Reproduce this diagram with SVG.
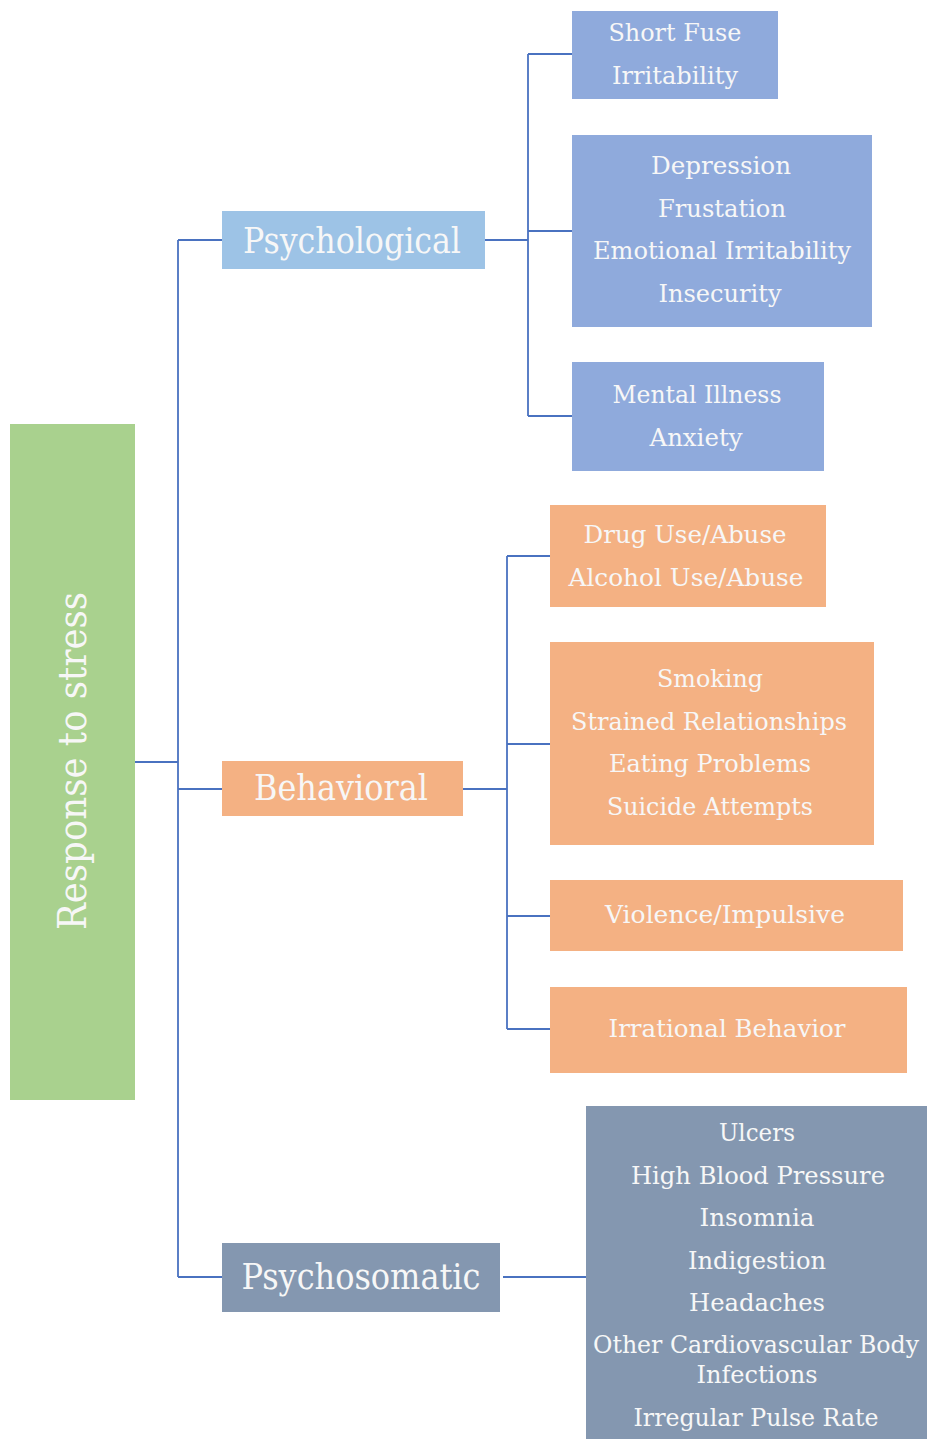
<svg xmlns="http://www.w3.org/2000/svg" width="927" height="1439" viewBox="0 0 927 1439">
<style>
text{font-family:"DejaVu Serif","Liberation Serif",serif;fill:#F7F7F7;text-anchor:middle}
.s{font-size:23.5px}
.t{font-size:25px}
.h{font-size:35px}
.c{stroke:#4A72C0;stroke-width:1.8;fill:none}
.blue{fill:#8FAADC}.org{fill:#F4B183}.slate{fill:#8497B0}
</style>
<rect width="927" height="1439" fill="#FFFFFF"/>
<g id="connectors">
<path class="c" d="M135 762H178M178 240V1277M178 240H222M178 789H222M178 1277H222"/>
<path class="c" d="M485 240H528M528 54V416M528 54H572M528 231H572M528 416H572"/>
<path class="c" d="M463 789H507M507 556V1029M507 556H550M507 744H550M507 916H550M507 1029H550"/>
<path class="c" d="M503 1277H586"/>
</g>
<g id="root">
<rect x="10" y="424" width="125" height="676" fill="#A9D18E"/>
<text transform="translate(86 761) rotate(-90)" font-size="39" textLength="338" lengthAdjust="spacingAndGlyphs">Response to stress</text>
</g>
<g id="psychological">
<rect x="222" y="211" width="263" height="58" fill="#9DC3E6"/>
<text class="h" x="352" y="253" textLength="218" lengthAdjust="spacingAndGlyphs">Psychological</text>
</g>
<g id="behavioral">
<rect x="222" y="761" width="241" height="55" class="org"/>
<text class="h" x="341" y="800" textLength="174" lengthAdjust="spacingAndGlyphs">Behavioral</text>
</g>
<g id="psychosomatic">
<rect x="222" y="1243" width="278" height="69" class="slate"/>
<text class="h" x="361" y="1289" textLength="239" lengthAdjust="spacingAndGlyphs">Psychosomatic</text>
</g>
<g id="psy1">
<rect x="572" y="11" width="206" height="88" class="blue"/>
<text class="s" x="675" y="41" textLength="133" lengthAdjust="spacingAndGlyphs">Short Fuse</text>
<text class="s" x="675" y="84" textLength="126" lengthAdjust="spacingAndGlyphs">Irritability</text>
</g>
<g id="psy2">
<rect x="572" y="135" width="300" height="192" class="blue"/>
<text class="s" x="721" y="174" textLength="140" lengthAdjust="spacingAndGlyphs">Depression</text>
<text class="s" x="722" y="217" textLength="128" lengthAdjust="spacingAndGlyphs">Frustation</text>
<text class="s" x="722" y="259" textLength="258" lengthAdjust="spacingAndGlyphs">Emotional Irritability</text>
<text class="s" x="720" y="302" textLength="123" lengthAdjust="spacingAndGlyphs">Insecurity</text>
</g>
<g id="psy3">
<rect x="572" y="362" width="252" height="109" class="blue"/>
<text class="s" x="697" y="403" textLength="169" lengthAdjust="spacingAndGlyphs">Mental Illness</text>
<text class="s" x="696" y="446" textLength="93" lengthAdjust="spacingAndGlyphs">Anxiety</text>
</g>
<g id="beh1">
<rect x="550" y="505" width="276" height="102" class="org"/>
<text class="s" x="685" y="543" textLength="203" lengthAdjust="spacingAndGlyphs">Drug Use/Abuse</text>
<text class="s" x="686" y="586" textLength="235" lengthAdjust="spacingAndGlyphs">Alcohol Use/Abuse</text>
</g>
<g id="beh2">
<rect x="550" y="642" width="324" height="203" class="org"/>
<text class="s" x="710" y="687" textLength="106" lengthAdjust="spacingAndGlyphs">Smoking</text>
<text class="s" x="709" y="730" textLength="276" lengthAdjust="spacingAndGlyphs">Strained Relationships</text>
<text class="s" x="710" y="772" textLength="202" lengthAdjust="spacingAndGlyphs">Eating Problems</text>
<text class="s" x="710" y="815" textLength="206" lengthAdjust="spacingAndGlyphs">Suicide Attempts</text>
</g>
<g id="beh3">
<rect x="550" y="880" width="353" height="71" class="org"/>
<text class="s" x="725" y="923" textLength="240" lengthAdjust="spacingAndGlyphs">Violence/Impulsive</text>
</g>
<g id="beh4">
<rect x="550" y="987" width="357" height="86" class="org"/>
<text class="s" x="727" y="1037" textLength="237" lengthAdjust="spacingAndGlyphs">Irrational Behavior</text>
</g>
<g id="soma1">
<rect x="586" y="1106" width="341" height="333" class="slate"/>
<text class="t" x="757" y="1141" textLength="76" lengthAdjust="spacingAndGlyphs">Ulcers</text>
<text class="t" x="758" y="1184" textLength="254" lengthAdjust="spacingAndGlyphs">High Blood Pressure</text>
<text class="t" x="757" y="1226" textLength="115" lengthAdjust="spacingAndGlyphs">Insomnia</text>
<text class="t" x="757" y="1269" textLength="138" lengthAdjust="spacingAndGlyphs">Indigestion</text>
<text class="t" x="757" y="1311" textLength="136" lengthAdjust="spacingAndGlyphs">Headaches</text>
<text class="t" x="756" y="1353" textLength="326" lengthAdjust="spacingAndGlyphs">Other Cardiovascular Body</text>
<text class="t" x="757" y="1383" textLength="121" lengthAdjust="spacingAndGlyphs">Infections</text>
<text class="t" x="756" y="1426" textLength="245" lengthAdjust="spacingAndGlyphs">Irregular Pulse Rate</text>
</g>
</svg>
